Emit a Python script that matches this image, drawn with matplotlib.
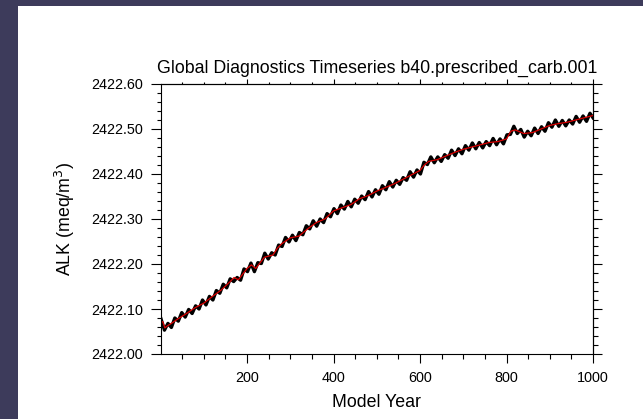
import numpy as np
import matplotlib
matplotlib.use("Agg")
import matplotlib.pyplot as plt
from matplotlib.patches import Rectangle
from matplotlib.ticker import MultipleLocator, FormatStrFormatter

plt.rcParams['font.family'] = ['Liberation Sans', 'DejaVu Sans']

TITLE = "Global Diagnostics Timeseries b40.prescribed_carb.001"

# smoothed series (red)
smooth_years = [1, 5, 10, 15, 25, 40, 60, 80, 100, 120, 140, 160, 170, 180, 200,
                210, 220, 240, 260, 270, 280, 300, 320, 340, 360, 380, 400, 420,
                440, 460, 480, 500, 520, 540, 560, 580, 600, 610, 620, 640, 660,
                680, 700, 720, 740, 760, 780, 800, 810, 820, 840, 860, 880, 900,
                920, 940, 960, 980, 1000]
smooth_alk = [2422.070, 2422.072, 2422.058, 2422.062, 2422.068, 2422.078, 2422.090,
              2422.103, 2422.113, 2422.128, 2422.142, 2422.160, 2422.170, 2422.165,
              2422.190, 2422.198, 2422.190, 2422.215, 2422.220, 2422.235, 2422.245,
              2422.258, 2422.262, 2422.278, 2422.292, 2422.300, 2422.318, 2422.325,
              2422.332, 2422.345, 2422.352, 2422.362, 2422.370, 2422.378, 2422.388,
              2422.398, 2422.408, 2422.420, 2422.428, 2422.432, 2422.440, 2422.448,
              2422.455, 2422.460, 2422.465, 2422.470, 2422.472, 2422.478, 2422.495,
              2422.498, 2422.490, 2422.492, 2422.500, 2422.508, 2422.512, 2422.515,
              2422.520, 2422.525, 2422.530]

# raw series (black), sampled every 8 years
raw_years = list(range(1, 1001, 8)) + [1000]
raw_alk = [2422.078, 2422.053, 2422.068, 2422.059, 2422.080, 2422.073, 2422.092, 2422.082,
           2422.099, 2422.090, 2422.107, 2422.100, 2422.120, 2422.109, 2422.128, 2422.120,
           2422.141, 2422.135, 2422.155, 2422.147, 2422.167, 2422.161, 2422.170, 2422.164,
           2422.189, 2422.183, 2422.202, 2422.183, 2422.203, 2422.201, 2422.224, 2422.211,
           2422.225, 2422.220, 2422.242, 2422.239, 2422.259, 2422.249, 2422.264, 2422.252,
           2422.270, 2422.265, 2422.285, 2422.278, 2422.296, 2422.284, 2422.300, 2422.292,
           2422.312, 2422.305, 2422.323, 2422.312, 2422.331, 2422.322, 2422.339, 2422.327,
           2422.344, 2422.335, 2422.351, 2422.343, 2422.361, 2422.349, 2422.365, 2422.355,
           2422.374, 2422.365, 2422.383, 2422.371, 2422.386, 2422.377, 2422.392, 2422.386,
           2422.405, 2422.393, 2422.409, 2422.400, 2422.426, 2422.421, 2422.438, 2422.425,
           2422.438, 2422.428, 2422.443, 2422.435, 2422.453, 2422.441, 2422.456, 2422.445,
           2422.463, 2422.453, 2422.469, 2422.456, 2422.470, 2422.458, 2422.472, 2422.463,
           2422.479, 2422.465, 2422.478, 2422.467, 2422.487, 2422.488, 2422.506, 2422.490,
           2422.499, 2422.482, 2422.495, 2422.485, 2422.502, 2422.490, 2422.505, 2422.495,
           2422.514, 2422.504, 2422.520, 2422.506, 2422.519, 2422.507, 2422.520, 2422.511,
           2422.528, 2422.515, 2422.529, 2422.517, 2422.535, 2422.525]

x_ticks = [200, 400, 600, 800, 1000]

W, H = 643, 419
fig = plt.figure(figsize=(W / 100, H / 100), dpi=100)
fig.patch.set_facecolor('#3d3b5b')
panel = Rectangle((18 / W, 0), 1, 1 - 6 / H, transform=fig.transFigure,
                  facecolor='white', edgecolor='none', zorder=-10)
fig.add_artist(panel)

ax = fig.add_axes([161 / W, 1 - 354 / H, (593 - 161) / W, (354 - 84) / H])
# black band for the yearly values, red running mean on top
ax.plot(raw_years, raw_alk, color='black', lw=2.4, solid_joinstyle='round')
ax.plot(smooth_years, smooth_alk, color='#dd0000', lw=0.9)

ax.set_xlim(1, 1000)
ax.set_ylim(2422.0, 2422.6)
ax.set_xticks(x_ticks)
ax.xaxis.set_minor_locator(MultipleLocator(50))
ax.yaxis.set_major_locator(MultipleLocator(0.1))
ax.yaxis.set_minor_locator(MultipleLocator(0.02))
ax.yaxis.set_major_formatter(FormatStrFormatter('%.2f'))

for s in ax.spines.values():
    s.set_linewidth(0.8)
ax.tick_params(which='both', direction='out', width=0.8, labelsize=10.4, pad=6)
ax.tick_params(axis='x', which='major', length=6.5)
ax.tick_params(axis='x', which='minor', length=3.6)
ax.tick_params(axis='y', which='major', length=7)
ax.tick_params(axis='y', which='minor', length=2.6)

top = ax.secondary_xaxis('top')
top.set_xticks(x_ticks)
top.xaxis.set_minor_locator(MultipleLocator(50))
top.tick_params(which='both', direction='out', width=0.8, labeltop=False)
top.tick_params(which='major', length=3.6)
top.tick_params(which='minor', length=1.8)

right = ax.secondary_yaxis('right')
right.yaxis.set_major_locator(MultipleLocator(0.1))
right.yaxis.set_minor_locator(MultipleLocator(0.02))
right.tick_params(which='both', direction='out', width=0.8, labelright=False)
right.tick_params(which='major', length=6.5)
right.tick_params(which='minor', length=3.6)

ax.set_title(TITLE, fontsize=12.8, pad=8)
ax.set_xlabel('Model Year', fontsize=12.8, labelpad=6)
ax.set_ylabel('ALK (meq/m$^3$)', fontsize=12.8, labelpad=10)

fig.savefig('out.png', dpi=100, facecolor=fig.get_facecolor())
